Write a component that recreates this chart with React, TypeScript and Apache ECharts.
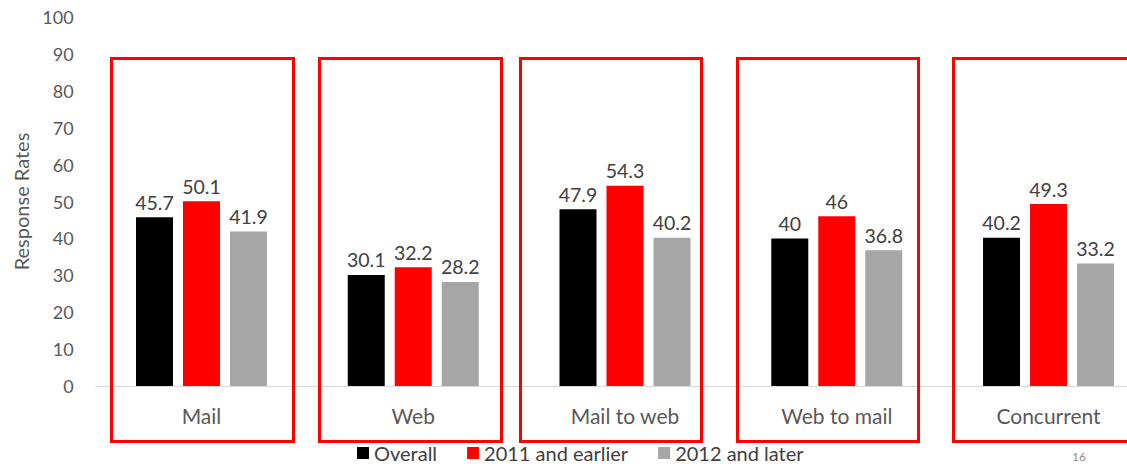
import React, { useEffect, useRef } from "react";
import * as echarts from "echarts";

const categories = ["Mail", "Web", "Mail to web", "Web to mail", "Concurrent"];
const overall = [45.7, 30.1, 47.9, 40, 40.2];
const earlier2011 = [50.1, 32.2, 54.3, 46, 49.3];
const later2012 = [41.9, 28.2, 40.2, 36.8, 33.2];
const seriesNames = ["Overall", "2011 and earlier", "2012 and later"];
const seriesColors = ["#000000", "#ff0000", "#a6a6a6"];

const FONT = "Lato, 'Noto Sans', sans-serif";

// red highlight boxes (outer pixel edges: left, right)
const boxes: [number, number][] = [
  [110, 295],
  [318, 503],
  [519, 703],
  [736, 920],
  [952, 1140],
];
const BOX_TOP = 57;
const BOX_BOTTOM = 443;

export default function App() {
  const ref = useRef<HTMLDivElement>(null);
  useEffect(() => {
    if (!ref.current) return;
    const chart = echarts.init(ref.current, undefined, { renderer: "svg" });
    const lw = 3;
    const data = [overall, earlier2011, later2012];
    chart.setOption({
      animation: false,
      backgroundColor: "#ffffff",
      grid: { left: 95.6, right: 0.6, top: 17, bottom: 78, containLabel: false },
      legend: {
        data: seriesNames,
        left: 357,
        top: 443,
        padding: 0,
        itemWidth: 12,
        itemHeight: 12,
        itemGap: 30,
        icon: "rect",
        textStyle: { fontFamily: FONT, fontSize: 20, lineHeight: 18, color: "#404040", padding: [0, 0, 0, 0] },
      },
      xAxis: {
        type: "category",
        data: categories,
        axisLine: { show: true, lineStyle: { color: "#d9d9d9", width: 1 } },
        axisTick: { show: false },
        axisLabel: { fontFamily: FONT, fontSize: 21, color: "#595959", margin: 19 },
      },
      yAxis: {
        type: "value",
        min: 0,
        max: 100,
        interval: 10,
        name: "Response Rates",
        nameLocation: "middle",
        nameGap: 58,
        nameTextStyle: { fontFamily: FONT, fontSize: 20, color: "#595959" },
        axisLine: { show: false },
        axisTick: { show: false },
        splitLine: { show: false },
        axisLabel: { fontFamily: FONT, fontSize: 18, color: "#595959", margin: 22 },
      },
      series: data.map((d, i) => ({
        name: seriesNames[i],
        type: "bar",
        data: d,
        barWidth: 37,
        barGap: "27%",
        itemStyle: { color: seriesColors[i] },
        label: {
          show: true,
          position: "top",
          distance: 5,
          fontFamily: FONT,
          fontSize: 19.5,
          color: "#404040",
        },
      })),
      graphic: [
        ...boxes.map(([l, r]) => ({
          type: "rect",
          z: 100,
          silent: true,
          shape: { x: l + lw / 2, y: BOX_TOP + lw / 2, width: r - l - lw, height: BOX_BOTTOM - BOX_TOP - lw },
          style: { fill: "none", stroke: "#ff0000", lineWidth: lw },
        })),
        {
          type: "text",
          left: 1072,
          top: 450,
          style: { text: "16", fontFamily: FONT, fontSize: 12, fill: "#8c8c8c" },
        },
      ],
    });
    return () => chart.dispose();
  }, []);
  return (
    <div
      ref={ref}
      style={{ position: "fixed", left: 0, top: 0, width: 1155, height: 464, background: "#fff" }}
    />
  );
}
